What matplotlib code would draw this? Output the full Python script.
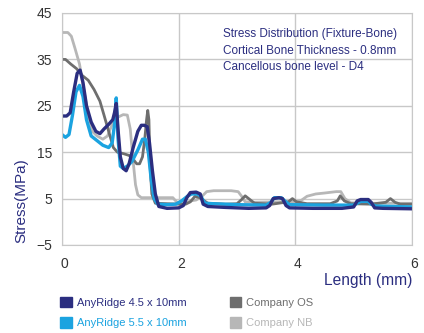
import matplotlib
matplotlib.use("Agg")
import matplotlib.pyplot as plt
import matplotlib.transforms as mtransforms
from matplotlib.patches import Patch

plt.rcParams['font.family'] = ['Liberation Sans', 'DejaVu Sans']

# AnyRidge 4.5 x 10mm
x_ar45 = [0, 0.08, 0.14, 0.2, 0.26, 0.31, 0.36, 0.42, 0.5, 0.58, 0.65, 0.72, 0.8, 0.87, 0.9, 0.93,
          0.96, 1.0, 1.05, 1.1, 1.15, 1.22, 1.3, 1.36, 1.41, 1.46, 1.5, 1.55, 1.6, 1.66, 1.8, 2.0,
          2.08, 2.14, 2.2, 2.3, 2.37, 2.42, 2.5, 2.8, 3.2, 3.5, 3.56, 3.62, 3.72, 3.78, 3.84, 3.9,
          4.3, 4.8, 5.0, 5.06, 5.12, 5.25, 5.3, 5.36, 5.5, 6.0]
y_ar45 = [22.8, 22.8, 23.5, 28, 32, 32.7, 30, 25, 21.5, 19.5, 19, 20, 21, 22, 23.5, 25.5,
          20, 14, 11.5, 11, 12.5, 16, 19.5, 20.8, 20.8, 20.5, 17, 11, 6, 3.3, 2.9, 3.0,
          3.5, 5.2, 6.3, 6.4, 6.0, 3.8, 3.3, 3.1, 2.9, 3.0, 3.5, 5.0, 5.2, 5.0, 3.5, 3.0,
          2.9, 2.9, 3.2, 4.5, 4.8, 4.8, 4.2, 3.0, 2.9, 2.8]

# AnyRidge 5.5 x 10mm
x_ar55 = [0, 0.06, 0.12, 0.18, 0.24, 0.3, 0.36, 0.42, 0.5, 0.6, 0.7, 0.8, 0.86, 0.9, 0.93, 0.96,
          1.0, 1.05, 1.12, 1.2, 1.3, 1.38, 1.43, 1.48, 1.53, 1.58, 1.64, 1.8, 1.95, 2.05, 2.15,
          2.22, 2.32, 2.38, 2.45, 2.6, 3.0, 3.5, 3.58, 3.64, 3.76, 3.82, 3.9, 4.5, 5.0, 5.06,
          5.12, 5.25, 5.3, 5.38, 6.0]
y_ar55 = [18.8, 18.2, 18.8, 23, 28, 29.4, 27, 22, 18.5, 17.5, 16.5, 16, 17, 21, 26.7, 18,
          12, 11.5, 12, 13, 15.5, 17.8, 17.8, 15, 9, 5, 3.8, 3.7, 3.8, 4.5, 5.5,
          6.0, 6.0, 5.5, 4.0, 3.9, 3.7, 3.6, 4.2, 5.2, 5.2, 4.5, 3.7, 3.6, 3.6, 4.0,
          4.4, 4.4, 3.8, 3.4, 3.2]

# Company OS
x_os = [0, 0.06, 0.15, 0.25, 0.35, 0.45, 0.55, 0.65, 0.72, 0.8, 0.88, 0.95, 1.05, 1.15, 1.22,
        1.28, 1.33, 1.38, 1.42, 1.45, 1.47, 1.49, 1.51, 1.54, 1.6, 1.8, 2.0, 2.12, 2.2, 2.28,
        2.36, 2.5, 2.8, 3.0, 3.08, 3.14, 3.22, 3.3, 3.6, 3.88, 3.95, 4.02, 4.2, 4.6, 4.72,
        4.77, 4.84, 4.95, 5.3, 5.55, 5.63, 5.71, 5.8, 6.0]
y_os = [35, 35, 34, 33, 31.5, 30.5, 28.5, 26, 23, 19.5, 16, 15, 14.7, 14.3, 13.5,
        12.5, 12.5, 14, 18, 22, 24, 22, 12, 6, 4, 3.9, 3.8, 3.8, 4.3, 5.5,
        5.2, 4.0, 3.8, 3.9, 4.8, 5.6, 4.8, 4.0, 3.8, 4.3, 5.0, 4.3, 3.9, 3.9, 4.5,
        5.6, 4.5, 3.9, 3.8, 4.2, 5.0, 4.2, 3.8, 3.8]

# Company NB
x_nb = [0, 0.1, 0.16, 0.22, 0.3, 0.38, 0.45, 0.52, 0.6, 0.7, 0.78, 0.86, 0.95, 1.05, 1.12,
        1.17, 1.22, 1.26, 1.3, 1.36, 1.5, 1.7, 1.9, 1.95, 2.0, 2.1, 2.2, 2.3, 2.4, 2.48, 2.6,
        2.9, 3.02, 3.08, 3.14, 3.3, 3.7, 4.0, 4.1, 4.2, 4.35, 4.5, 4.7, 4.78, 4.85, 4.95, 5.2,
        5.6, 6.0]
y_nb = [40.8, 40.8, 40, 37.5, 34, 28, 23, 19.5, 18.5, 17.8, 18.5, 21, 22.5, 23.1, 23,
        20, 13, 8, 5.8, 5.2, 5.2, 5.2, 5.2, 4.5, 3.9, 3.9, 4.5, 4.7, 5.5, 6.5, 6.7,
        6.7, 6.5, 5.5, 4.3, 4.2, 4.3, 4.3, 4.6, 5.5, 6.0, 6.2, 6.5, 6.5, 5.0, 4.1, 4.0,
        4.0, 4.0]

series_labels = ['AnyRidge 4.5 x 10mm', 'AnyRidge 5.5 x 10mm', 'Company OS', 'Company NB']
x_ticks = [0, 2, 4, 6]
y_ticks = [-5, 5, 15, 25, 35, 45]

navy = '#2b2e80'
cyan = '#1ba3e0'
dgray = '#6e6e6e'
lgray = '#b7b7b7'
grid_c = '#c8c8c8'

fig = plt.figure(figsize=(4.24, 3.33), dpi=100)
ax = fig.add_axes([62 / 424, 1 - 245 / 333, 350 / 424, 232 / 333])

ax.plot(x_nb, y_nb, color=lgray, lw=2, solid_joinstyle='round')
ax.plot(x_os, y_os, color=dgray, lw=2, solid_joinstyle='round')
ax.plot(x_ar55, y_ar55, color=cyan, lw=2.4, solid_joinstyle='round')
ax.plot(x_ar45, y_ar45, color=navy, lw=2.4, solid_joinstyle='round')

ax.set_xlim(0, 6)
ax.set_ylim(-5, 45)
ax.set_xticks(x_ticks)
ax.set_yticks(y_ticks)
ax.grid(True, color=grid_c, lw=1)
ax.set_axisbelow(True)
for s in ax.spines.values():
    s.set_color(grid_c)
ax.tick_params(length=0, labelsize=10, colors='#333333')
ax.tick_params(axis='x', pad=9)
ax.tick_params(axis='y', pad=7)

# x tick labels sit slightly right of their grid lines
offset = mtransforms.ScaledTranslation(-1.5 / 100, 0, fig.dpi_scale_trans)
for lab in ax.get_xticklabels():
    lab.set_horizontalalignment('left')
    lab.set_transform(lab.get_transform() + offset)

fig.text(21 / 424, 1 - 243 / 333, 'Stress(MPa)', rotation=90, ha='center', va='bottom',
         color=navy, fontsize=11)
fig.text(412 / 424, 1 - 280 / 333, 'Length (mm)', ha='right', va='center',
         color=navy, fontsize=11.2)

fig.text(223 / 424, 1 - 28 / 333, 'Stress Distribution (Fixture-Bone)\n'
         'Cortical Bone Thickness - 0.8mm\nCancellous bone level - D4',
         ha='left', va='top', color=navy, fontsize=8.5, linespacing=1.5)

handles = [Patch(color=c) for c in (navy, cyan, dgray, lgray)]
leg = fig.legend(handles, series_labels, ncol=2, loc='upper left',
                 bbox_to_anchor=(60 / 424, 1 - 297 / 333), frameon=False, fontsize=8,
                 handlelength=1.05, handleheight=1.05, handletextpad=0.45,
                 columnspacing=3.9, labelspacing=0.85, borderaxespad=0, borderpad=0)
for t, c in zip(leg.get_texts(), (navy, cyan, dgray, lgray)):
    t.set_color(c)

fig.savefig('out.png', dpi=100)
